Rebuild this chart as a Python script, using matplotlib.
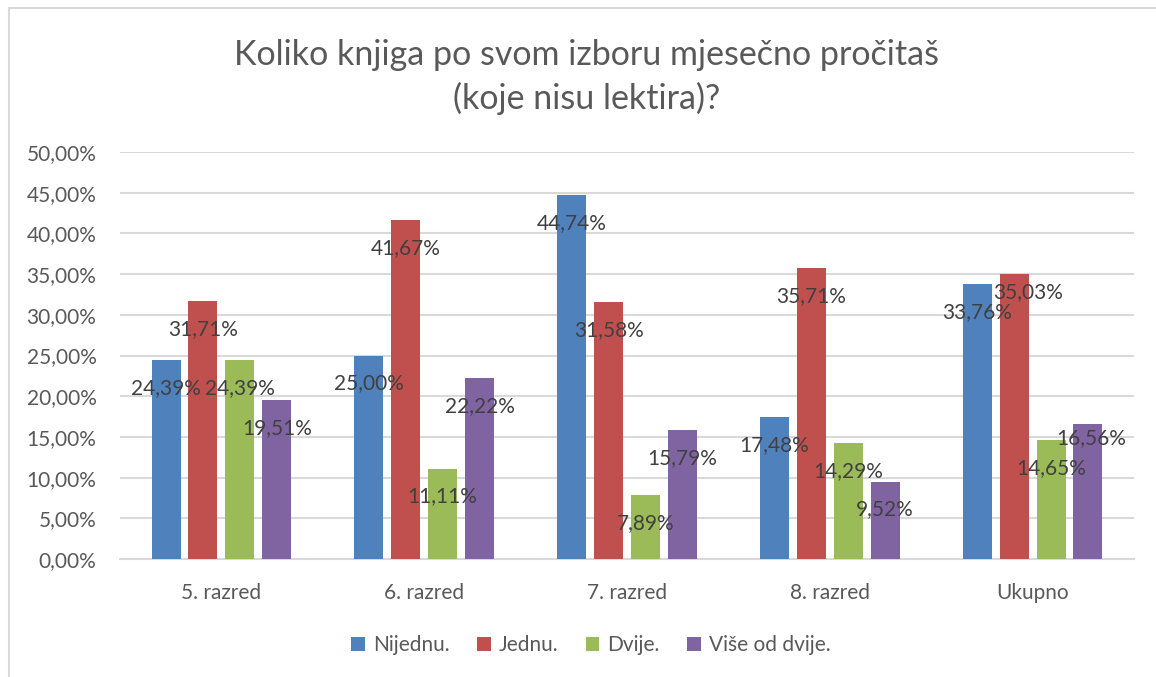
import matplotlib
matplotlib.use("Agg")
import matplotlib.pyplot as plt
from matplotlib.lines import Line2D
from matplotlib.patches import Patch
import numpy as np

# chart data (values in percent)
categories = ["5. razred", "6. razred", "7. razred", "8. razred", "Ukupno"]
series_names = ["Nijednu.", "Jednu.", "Dvije.", "Više od dvije."]
nijednu = [24.39, 25.00, 44.74, 17.48, 33.76]
jednu = [31.71, 41.67, 31.58, 35.71, 35.03]
dvije = [24.39, 11.11, 7.89, 14.29, 14.65]
vise = [19.51, 22.22, 15.79, 9.52, 16.56]
y_ticks = [0, 5, 10, 15, 20, 25, 30, 35, 40, 45, 50]

colors = ["#4F81BD", "#C0504D", "#9BBB59", "#8064A2"]
text_col = "#595959"
label_col = "#404040"
grid_col = "#D9D9D9"
font = "Lato"

# manual nudges for a few labels (series idx, category idx) -> (dx, dy) pixels
label_nudge = {(1, 4): (14, 10), (3, 4): (3, 14)}

plt.rcParams["font.family"] = [font, "DejaVu Sans"]

W, H = 1156, 677
fig = plt.figure(figsize=(W / 100, H / 100), dpi=100)
ax = fig.add_axes([120 / W, (H - 559) / H, (1134 - 120) / W, (559 - 152) / H])

x = np.arange(len(categories))
width = 0.143
step = 0.182
all_series = [nijednu, jednu, dvije, vise]
for i, (vals, col) in enumerate(zip(all_series, colors)):
    pos = x + (i - 1.5) * step
    ax.bar(pos, vals, width=width, color=col, zorder=3)
    for j, (px, v) in enumerate(zip(pos, vals)):
        dx, dy = label_nudge.get((i, j), (0, 0))
        ax.annotate(f"{v:.2f}%".replace(".", ","), (px, v),
                    xytext=(dx, -28 + dy), textcoords="offset pixels",
                    ha="center", va="center", fontsize=15, color=label_col,
                    zorder=4)

ax.set_xlim(-0.5, len(categories) - 0.5)
ax.set_ylim(0, 50)
ax.set_yticks(y_ticks)
ax.set_yticklabels([f"{t:.2f}%".replace(".", ",") for t in y_ticks])
ax.set_xticks(x)
ax.set_xticklabels(categories)
ax.grid(axis="y", color=grid_col, linewidth=1.5, zorder=0)
for s in ["top", "right", "left"]:
    ax.spines[s].set_visible(False)
ax.spines["bottom"].set_color(grid_col)
ax.spines["bottom"].set_linewidth(1.5)
ax.tick_params(axis="both", length=0, labelsize=15, colors=text_col)
ax.tick_params(axis="y", pad=17)
ax.tick_params(axis="x", pad=17)

fig.text(587 / W, 1 - 77 / H, "Koliko knjiga po svom izboru mjesečno pročitaš\n(koje nisu lektira)?",
         ha="center", va="center", fontsize=24.5, color=text_col,
         linespacing=1.38)

handles = [Patch(facecolor=c, edgecolor="none") for c in colors]
fig.legend(handles, series_names, loc="center", bbox_to_anchor=(591 / W, 1 - 645 / H),
           ncol=4, frameon=False, fontsize=15, labelcolor=text_col,
           handlelength=0.65, handleheight=0.65, handletextpad=0.4, columnspacing=1.3)

# outer chart border (only top and left edges visible)
fig.add_artist(Line2D([8.5 / W, 8.5 / W], [0, 1 - 7.5 / H], transform=fig.transFigure,
                      color=grid_col, linewidth=1.5))
fig.add_artist(Line2D([8.5 / W, 1155 / W], [1 - 7.5 / H, 1 - 7.5 / H], transform=fig.transFigure,
                      color=grid_col, linewidth=1.5))

fig.savefig("out.png", dpi=100)
